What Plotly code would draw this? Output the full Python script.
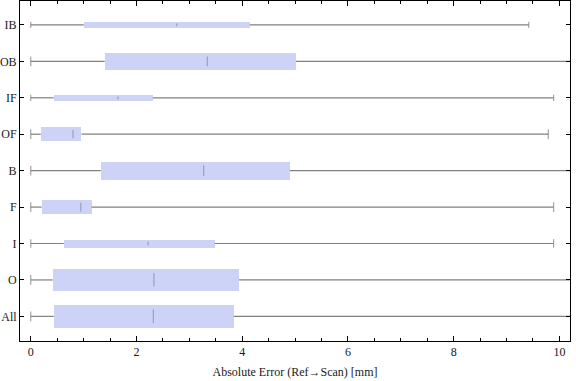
import plotly.graph_objects as go

# Data (bottom to top)
categories = ["All", "O", "I", "F", "B", "OF", "IF", "OB", "IB"]
q_min = [0, 0, 0, 0, 0, 0, 0, 0, 0]
q1 = [0.435, 0.416, 0.625, 0.208, 1.325, 0.19, 0.435, 1.40, 1.003]
median = [2.32, 2.33, 2.22, 0.946, 3.27, 0.80, 1.65, 3.34, 2.76]
q3 = [3.84, 3.94, 3.48, 1.15, 4.90, 0.96, 2.31, 5.016, 4.145]
q_max = [10.8, 10.8, 9.89, 9.89, 10.8, 9.79, 9.89, 10.8, 9.42]
# relative box thickness (category weight)
box_width = [0.649, 0.621, 0.219, 0.402, 0.493, 0.383, 0.164, 0.465, 0.164]

ypos = list(range(len(categories)))
y_range = [-0.676, 8.657]
plot_h_px = 340.0
px_per_unit = plot_h_px / (y_range[1] - y_range[0])

box_color = "rgb(205,211,246)"
whisker_color = "rgb(128,128,128)"
median_color = "rgba(100,100,125,0.65)"

fig = go.Figure()

# whiskers: min->q1 and q3->max
wx, wy = [], []
for i in range(len(categories)):
    wx += [q_min[i], q1[i], None, q3[i], q_max[i], None]
    wy += [ypos[i], ypos[i], None, ypos[i], ypos[i], None]
fig.add_trace(go.Scatter(x=wx, y=wy, mode="lines",
                         line=dict(color=whisker_color, width=1.2),
                         hoverinfo="skip", showlegend=False))

# caps
cap_sizes = [max(4, min(7, 0.75 * w * px_per_unit)) for w in box_width]
fig.add_trace(go.Scatter(x=q_min + q_max, y=ypos + ypos, mode="markers",
                         marker=dict(symbol="line-ns", size=cap_sizes + cap_sizes,
                                     line=dict(color=whisker_color, width=1.2)),
                         hoverinfo="skip", showlegend=False))

# boxes
fig.add_trace(go.Bar(y=ypos, x=[b - a for a, b in zip(q1, q3)], base=q1,
                     orientation="h", width=box_width,
                     marker=dict(color=box_color, line=dict(width=0)),
                     showlegend=False))

# medians
med_sizes = [2 if w < 0.2 else (3 if w < 0.3 else 0.42 * w * px_per_unit) for w in box_width]
fig.add_trace(go.Scatter(x=median, y=ypos, mode="markers",
                         marker=dict(symbol="line-ns", size=med_sizes,
                                     line=dict(color=median_color, width=1.2)),
                         hoverinfo="skip", showlegend=False))

font = dict(family="Liberation Serif, Times New Roman, serif", size=12, color="#1a1a1a")

fig.update_layout(
    width=576, height=381,
    margin=dict(l=20, r=6, t=1, b=40),
    plot_bgcolor="white", paper_bgcolor="white",
    font=font,
    bargap=0,
    xaxis=dict(range=[-0.203, 10.2], tick0=0, dtick=2, automargin=False,
               showline=True, linecolor="black", linewidth=1, mirror="ticks",
               ticks="inside", ticklen=5, tickcolor="black", tickwidth=1,
               minor=dict(dtick=0.5, ticks="inside", ticklen=3, tickcolor="black"),
               showgrid=False, zeroline=False,
               title=dict(text="Absolute Error (Ref\u2192Scan) [mm]", standoff=9,
                          font=font)),
    yaxis=dict(range=y_range, tickvals=ypos, ticktext=categories, automargin=False,
               showline=True, linecolor="black", linewidth=1, mirror="ticks",
               ticks="inside", ticklen=4, tickcolor="black", tickwidth=1,
               ticklabelstandoff=0,
               showgrid=False, zeroline=False),
)

fig.write_html("out.html", config={"displayModeBar": False},
               post_script="document.body.style.margin='0';document.body.style.overflow='hidden';")
